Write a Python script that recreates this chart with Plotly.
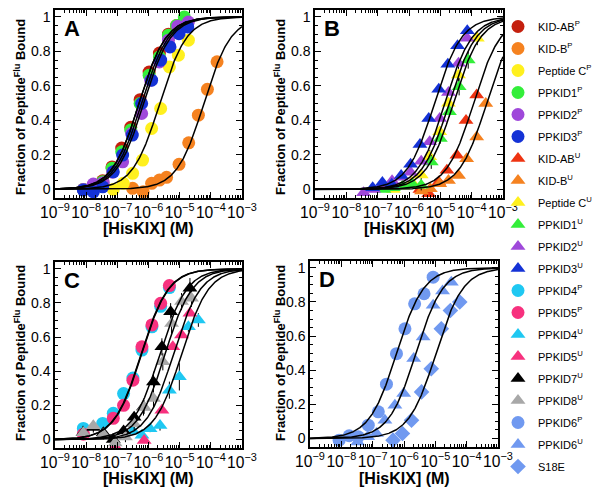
import numpy as np
import plotly.graph_objects as go

# ---------------- data (x given as log10 of [HisKIX] in M; y = fraction bound) -------------
# Panel A - phosphorylated peptides (circles)
kidab_p_lx = [-8.09, -7.77, -7.47, -7.17, -6.86, -6.57, -6.27, -5.98, -5.65, -5.36, -5.10, -4.85]
kidab_p_y = [0.0, 0.02, 0.05, 0.13, 0.24, 0.36, 0.52, 0.68, 0.79, 0.90, 0.95, 0.98]
kidb_p_lx = [-6.51, -6.17, -5.90, -5.65, -5.42, -5.02, -4.71, -4.40, -4.11, -3.80]
kidb_p_y = [0.006, -0.014, 0.035, 0.054, 0.07, 0.145, 0.27, 0.43, 0.58, 0.74]
pepc_p_lx = [-7.13, -6.81, -6.51, -6.19, -5.90, -5.61, -5.33, -5.04, -4.72]
pepc_p_y = [0.0, 0.035, 0.093, 0.17, 0.353, 0.469, 0.71, 0.778, 0.865]
ppkid1_p_lx = [-8.09, -7.77, -7.47, -7.17, -6.86, -6.57, -6.27, -5.98, -5.65, -5.36, -5.10, -4.85]
ppkid1_p_y = [0.0, 0.015, 0.044, 0.122, 0.218, 0.344, 0.498, 0.662, 0.768, 0.894, 0.95, 1.0]
ppkid2_p_lx = [-8.09, -7.77, -7.45, -7.15, -6.83, -6.54, -6.22, -5.93, -5.65, -5.36, -5.06, -4.72]
ppkid2_p_y = [0.0, 0.031, 0.039, 0.10, 0.16, 0.324, 0.44, 0.633, 0.739, 0.865, 0.946, 0.97]
ppkid3_p_lx = [-8.09, -7.77, -7.47, -7.13, -6.83, -6.52, -6.22, -5.90, -5.61, -5.31, -5.02, -4.74]
ppkid3_p_y = [-0.004, -0.014, 0.015, 0.102, 0.199, 0.315, 0.498, 0.633, 0.749, 0.826, 0.903, 0.942]
kd_A = [5.0e-7, 6.0e-5, 2.3e-6, 5.0e-7, 6.0e-7, 7.0e-7]

# Panel B - unphosphorylated peptides (triangles)
kidab_u_lx = [-5.65, -5.37, -5.05, -4.79, -4.47, -4.18, -3.84]
kidab_u_y = [0.0, -0.025, 0.043, 0.111, 0.198, 0.40, 0.547]
kidb_u_lx = [-5.60, -5.32, -5.02, -4.74, -4.42, -4.16, -3.84, -3.55]
kidb_u_y = [-0.01, 0.004, 0.033, 0.052, 0.081, 0.178, 0.304, 0.498]
pepc_u_lx = [-6.50, -6.20, -5.90, -5.61, -5.34, -5.02, -4.74, -4.42, -3.82]
pepc_u_y = [0.0, 0.02, 0.04, 0.083, 0.189, 0.334, 0.499, 0.663, 0.876]
pepc_u_err = [0.0, 0.0, 0.02, 0.03, 0.04, 0.03, 0.03, 0.05, 0.04]
ppkid1_u_lx = [-6.80, -6.50, -6.20, -5.89, -5.61, -5.29, -5.00, -4.71, -4.40, -4.11]
ppkid1_u_y = [0.0, 0.01, 0.02, 0.03, 0.024, 0.159, 0.295, 0.45, 0.595, 0.75]
ppkid1_u_err = [0.0, 0.0, 0.0, 0.02, 0.03, 0.04, 0.03, 0.03, 0.05, 0.05]
ppkid2_u_lx = [-7.45, -7.13, -6.84, -6.54, -6.24, -5.95, -5.61, -5.34, -5.02, -4.74, -4.42, -4.14]
ppkid2_u_y = [-0.02, 0.0, 0.03, 0.05, 0.07, 0.10, 0.163, 0.276, 0.411, 0.562, 0.731, 0.876]
ppkid3_u_lx = [-7.16, -6.85, -6.55, -6.25, -5.95, -5.65, -5.37, -5.05, -4.76, -4.45, -4.14]
ppkid3_u_y = [0.01, 0.04, 0.03, 0.08, 0.145, 0.26, 0.411, 0.581, 0.725, 0.833, 0.919]
kd_B = [1.15e-4, 3.0e-4, 1.9e-5, 2.6e-5, 1.4e-5, 6.5e-6]

# Panel C
ppkid4_p_lx = [-8.09, -7.47, -7.13, -6.80, -6.50, -6.21, -5.89, -5.61, -5.33]
ppkid4_p_y = [0.065, 0.094, 0.153, 0.269, 0.36, 0.524, 0.66, 0.78, 0.89]
ppkid5_p_lx = [-8.09, -7.13, -6.80, -6.50, -6.21, -5.89, -5.61, -5.33]
ppkid5_p_y = [0.031, 0.124, 0.20, 0.347, 0.543, 0.671, 0.798, 0.902]
ppkid4_u_lx = [-6.50, -6.21, -5.95, -5.63, -5.33, -5.01, -4.72, -4.40]
ppkid4_u_y = [0.05, 0.024, 0.063, 0.082, 0.289, 0.367, 0.661, 0.70]
ppkid4_u_err = [0.0, 0.0, 0.02, 0.03, 0.05, 0.08, 0.03, 0.04]
ppkid5_u_lx = [-7.07, -6.14, -5.57, -5.22, -4.94, -4.67]
ppkid5_u_y = [-0.043, -0.006, 0.171, 0.543, 0.612, 0.74]
ppkid7_u_lx = [-8.10, -7.77, -7.45, -7.13, -6.80, -6.46, -6.16, -5.84, -5.57, -5.29, -4.67]
ppkid7_u_y = [0.04, 0.07, 0.04, 0.0, 0.05, 0.13, 0.19, 0.337, 0.543, 0.749, 0.886]
ppkid7_u_err = [0.04, 0.03, 0.02, 0.03, 0.02, 0.03, 0.05, 0.06, 0.05, 0.05, 0.06]
ppkid8_u_lx = [-8.09, -7.77, -7.45, -7.07, -6.74, -6.46, -6.14, -5.84, -5.54, -5.26, -4.94, -4.62]
ppkid8_u_y = [0.04, 0.08, 0.03, -0.02, 0.014, 0.092, 0.19, 0.24, 0.455, 0.68, 0.808, 0.827]
ppkid8_u_err = [0.03, 0.03, 0.03, 0.03, 0.03, 0.04, 0.04, 0.05, 0.05, 0.06, 0.05, 0.05]
kd_C = [6.0e-7, 5.8e-7, 1.15e-5, 6.3e-6, 2.3e-6, 3.4e-6]

# Panel D
ppkid6_p_lx = [-8.07, -7.75, -7.46, -7.14, -6.82, -6.56, -6.24, -5.97, -5.66, -5.36, -5.07]
ppkid6_p_y = [-0.01, 0.016, 0.01, 0.078, 0.156, 0.318, 0.497, 0.643, 0.789, 0.848, 0.945]
ppkid6_u_lx = [-7.48, -7.16, -6.88, -6.61, -6.29, -6.01, -5.69, -5.39, -5.07, -4.77, -4.49]
ppkid6_u_y = [-0.02, 0.01, 0.029, 0.107, 0.195, 0.263, 0.468, 0.595, 0.78, 0.864, 0.916]
s18e_lx = [-6.35, -6.05, -5.76, -5.44, -5.13, -4.81, -4.52, -4.22]
s18e_y = [-0.01, 0.029, 0.107, 0.273, 0.409, 0.643, 0.75, 0.80]
kd_D = [5.8e-7, 2.4e-6, 1.05e-5]

# ---------------- styling -------------
RED_P, RED_U = "#C4200E", "#EE3311"
ORANGE = "#F58220"
YELLOW = "#FFF01E"
GREEN = "#33EE3A"
PURPLE = "#9F48DA"
BLUE = "#1432D6"
CYAN = "#1FC8F2"
PINK = "#F7317E"
BLACK = "#000000"
GRAY = "#A8A8A8"
LBLUE = "#7099F0"

series = [
    # name, lx, y, color, symbol, panel, err
    ("KID-AB<sup>P</sup>", kidab_p_lx, kidab_p_y, RED_P, "circle", 1, None),
    ("KID-B<sup>P</sup>", kidb_p_lx, kidb_p_y, ORANGE, "circle", 1, None),
    ("Peptide C<sup>P</sup>", pepc_p_lx, pepc_p_y, YELLOW, "circle", 1, None),
    ("PPKID1<sup>P</sup>", ppkid1_p_lx, ppkid1_p_y, GREEN, "circle", 1, None),
    ("PPKID2<sup>P</sup>", ppkid2_p_lx, ppkid2_p_y, PURPLE, "circle", 1, None),
    ("PPKID3<sup>P</sup>", ppkid3_p_lx, ppkid3_p_y, BLUE, "circle", 1, None),
    ("KID-AB<sup>U</sup>", kidab_u_lx, kidab_u_y, RED_U, "triangle-up", 2, None),
    ("KID-B<sup>U</sup>", kidb_u_lx, kidb_u_y, ORANGE, "triangle-up", 2, None),
    ("Peptide C<sup>U</sup>", pepc_u_lx, pepc_u_y, YELLOW, "triangle-up", 2, pepc_u_err),
    ("PPKID1<sup>U</sup>", ppkid1_u_lx, ppkid1_u_y, GREEN, "triangle-up", 2, ppkid1_u_err),
    ("PPKID2<sup>U</sup>", ppkid2_u_lx, ppkid2_u_y, PURPLE, "triangle-up", 2, None),
    ("PPKID3<sup>U</sup>", ppkid3_u_lx, ppkid3_u_y, BLUE, "triangle-up", 2, None),
    ("PPKID4<sup>P</sup>", ppkid4_p_lx, ppkid4_p_y, CYAN, "circle", 3, None),
    ("PPKID5<sup>P</sup>", ppkid5_p_lx, ppkid5_p_y, PINK, "circle", 3, None),
    ("PPKID4<sup>U</sup>", ppkid4_u_lx, ppkid4_u_y, CYAN, "triangle-up", 3, ppkid4_u_err),
    ("PPKID5<sup>U</sup>", ppkid5_u_lx, ppkid5_u_y, PINK, "triangle-up", 3, None),
    ("PPKID7<sup>U</sup>", ppkid7_u_lx, ppkid7_u_y, BLACK, "triangle-up", 3, ppkid7_u_err),
    ("PPKID8<sup>U</sup>", ppkid8_u_lx, ppkid8_u_y, GRAY, "triangle-up", 3, ppkid8_u_err),
    ("PPKID6<sup>P</sup>", ppkid6_p_lx, ppkid6_p_y, LBLUE, "circle", 4, None),
    ("PPKID6<sup>U</sup>", ppkid6_u_lx, ppkid6_u_y, LBLUE, "triangle-up", 4, None),
    ("S18E", s18e_lx, s18e_y, LBLUE, "diamond", 4, None),
]

SIZES = {"circle": 13, "triangle-up": 13, "diamond": 12}

fig = go.Figure()
for i, (name, lx, y, col, sym, panel, err) in enumerate(series):
    suffix = "" if panel == 1 else str(panel)
    tr = dict(
        x=[10 ** v for v in lx], y=y, mode="markers", name=name,
        legendgroup="g%d" % i,
        marker=dict(color=col, symbol=sym, size=SIZES[sym], line=dict(width=0)),
        xaxis="x" + suffix, yaxis="y" + suffix,
    )
    if err is not None:
        tr["error_y"] = dict(type="data", array=err, color="black", thickness=1, width=0)
    fig.add_trace(go.Scatter(**tr))

# fitted binding curves
xc = np.logspace(-9, -3, 400)
for panel, kds in [(1, kd_A), (2, kd_B), (3, kd_C), (4, kd_D)]:
    suffix = "" if panel == 1 else str(panel)
    for kd in kds:
        fig.add_trace(go.Scatter(x=xc, y=xc / (kd + xc), mode="lines",
                                 line=dict(color="black", width=1.5),
                                 showlegend=False, hoverinfo="skip",
                                 xaxis="x" + suffix, yaxis="y" + suffix))

# The page body has an 8px margin, so the figure is drawn 8px in from the
# window corner; layout is designed in window pixels and converted.
WIN_W, WIN_H, OFF = 600, 491, 8
W, H = WIN_W - OFF, WIN_H - OFF


def px(x):
    return (x - OFF) / W


def py(y):
    return 1 - (y - OFF) / H


# window-pixel boxes of the four panels, plus centre positions of their axis titles
panels = {
    1: ((55, 242), (10, 198), "A", 229, 20, 107),
    2: ((315, 503), (10, 198), "B", 229, 280, 107),
    3: ((55, 242), (262, 448), "C", 478, 20, 353),
    4: ((310, 498), (261, 447), "D", 478, 280, 353),
}

FONT = "Liberation Sans, Arial, sans-serif"
layout = dict(
    width=W, height=H, margin=dict(l=0, r=0, t=0, b=0, pad=0, autoexpand=False),
    paper_bgcolor="white", plot_bgcolor="white",
    font=dict(family=FONT, color="black", size=14),
    showlegend=True,
    legend=dict(x=px(498), y=py(12), xanchor="left", yanchor="top",
                font=dict(size=11, family=FONT, color="black"),
                traceorder="grouped", tracegroupgap=3.0,
                bgcolor="rgba(0,0,0,0)", borderwidth=0, itemclick=False),
    annotations=[],
)
for p, ((x0, x1), (y0, y1), letter, xt_y, yt_x, yt_y) in panels.items():
    s = "" if p == 1 else str(p)
    layout["xaxis" + s] = dict(
        domain=[px(x0), px(x1)], anchor="y" + s, type="log", range=[-9, -3], dtick=1,
        exponentformat="power", showline=True, linecolor="black", linewidth=1.5,
        mirror="ticks", ticks="inside", ticklen=6, tickwidth=1.2, tickcolor="black",
        minor=dict(ticks="inside", ticklen=3, tickwidth=1, tickcolor="black", dtick="D1", showgrid=False),
        showgrid=False, zeroline=False, tickfont=dict(size=12.5), tickangle=0, automargin=False,
    )
    layout["yaxis" + s] = dict(
        domain=[py(y1), py(y0)], anchor="x" + s, range=[-0.05, 1.04],
        tickvals=[0, 0.2, 0.4, 0.6, 0.8, 1], showline=True, linecolor="black", linewidth=1.5,
        mirror="ticks", ticks="inside", ticklen=6, tickwidth=1.2, tickcolor="black",
        minor=dict(ticks="inside", ticklen=3, tickwidth=1, tickcolor="black", dtick=0.05, showgrid=False),
        showgrid=False, zeroline=False, tickfont=dict(size=14), tickangle=0, automargin=False,
    )
    # panel letter
    layout["annotations"].append(dict(
        text="<b>%s</b>" % letter, xref="paper", yref="paper",
        x=px(x0 + 17), y=py(y0 + 18), xanchor="center", yanchor="middle", showarrow=False,
        font=dict(size=22, family=FONT, color="black")))
    # x-axis title
    layout["annotations"].append(dict(
        text="<b>[HisKIX] (M)</b>", xref="paper", yref="paper",
        x=px((x0 + x1) / 2), y=py(xt_y), xanchor="center", yanchor="middle", showarrow=False,
        font=dict(size=16, family=FONT, color="black")))
    # y-axis title
    layout["annotations"].append(dict(
        text="<b>Fraction of Peptide<sup>Flu</sup> Bound</b>", xref="paper", yref="paper",
        x=px(yt_x), y=py(yt_y), xanchor="center", yanchor="middle",
        textangle=-90, showarrow=False,
        font=dict(size=13, family=FONT, color="black")))

fig.update_layout(**layout)
fig.write_html("out.html")
